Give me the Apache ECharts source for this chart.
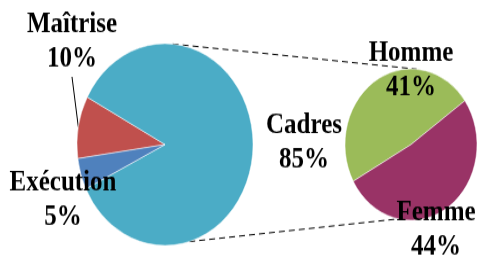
<!DOCTYPE html>
<html>
<head>
<meta charset="utf-8">
<script src="https://cdn.jsdelivr.net/npm/echarts@6/dist/echarts.min.js"></script>
<style>
html, body { margin: 0; padding: 0; background: #fff; }
body { width: 479px; height: 257px; }
/* the reference is stretched vertically, so the chart is drawn flatter and scaled */
#chart { width: 479px; height: 224px; transform: scaleY(1.147); transform-origin: 0 0; }
</style>
</head>
<body>
<div id="chart"></div>
<script>
// main pie
var mainNames = ['Maîtrise', 'Cadres', 'Exécution']
var mainValues = [10, 85, 5]
var mainColors = ['#C0504D', '#4BACC6', '#4F81BD']
// split of "Cadres"
var splitNames = ['Homme', 'Femme']
var splitValues = [41, 44]
var splitColors = ['#9BBB59', '#993366']

var leftCenter = [165, 126]
var leftR = 88
var rightCenter = [411, 126]
var rightR = 66

// where each label sits (center of text block)
var labelPos = {
  'Maîtrise': [72, 37],
  'Exécution': [63, 175],
  'Cadres': [304, 125],
  'Homme': [411, 62],
  'Femme': [436, 201]
}

function pt(c, r, deg) {
  var a = deg * Math.PI / 180
  return [c[0] + r * Math.cos(a), c[1] - r * Math.sin(a)]
}

function items(names, values, colors) {
  return names.map(function(n, i) {
    return {
      name: n,
      value: values[i],
      itemStyle: { color: colors[i] },
      labelLine: { show: n === 'Maîtrise' }
    }
  })
}

var labelStyle = {
  show: true,
  formatter: '{b}\n{c}%',
  fontFamily: 'Liberation Serif',
  fontWeight: 'bold',
  fontSize: 25,
  lineHeight: 30,
  color: '#000',
  align: 'center'
}

function layoutFor(names) {
  return function(params) {
    var p = labelPos[names[params.dataIndex]]
    return { x: p[0], y: p[1], align: 'center', verticalAlign: 'middle' }
  }
}

var chart = echarts.init(document.getElementById('chart'))

var t1 = pt(leftCenter, leftR, 85)
var t2 = pt(rightCenter, rightR, 85)
var b1 = pt(leftCenter, leftR, -74)
var b2 = pt(rightCenter, rightR, -101)
var dash = { stroke: '#000', lineWidth: 1, lineDash: [6, 4] }

chart.setOption({
  animation: false,
  graphic: [
    { type: 'line', shape: { x1: t1[0], y1: t1[1], x2: t2[0], y2: t2[1] }, style: dash, z: 0 },
    { type: 'line', shape: { x1: b1[0], y1: b1[1], x2: b2[0], y2: b2[1] }, style: dash, z: 0 }
  ],
  series: [
    {
      type: 'pie',
      center: leftCenter,
      radius: leftR,
      startAngle: 188,
      clockwise: true,
      avoidLabelOverlap: false,
      silent: true,
      itemStyle: { borderColor: '#fff', borderWidth: 0.5 },
      label: labelStyle,
      labelLine: { lineStyle: { color: '#000', width: 1 }, length: 10, length2: 0 },
      labelLayout: layoutFor(mainNames),
      data: items(mainNames, mainValues, mainColors)
    },
    {
      type: 'pie',
      center: rightCenter,
      radius: rightR,
      startAngle: 209,
      clockwise: true,
      avoidLabelOverlap: false,
      silent: true,
      itemStyle: { borderColor: '#fff', borderWidth: 0.5 },
      label: labelStyle,
      labelLayout: layoutFor(splitNames),
      data: items(splitNames, splitValues, splitColors)
    }
  ]
})
</script>
</body>
</html>
